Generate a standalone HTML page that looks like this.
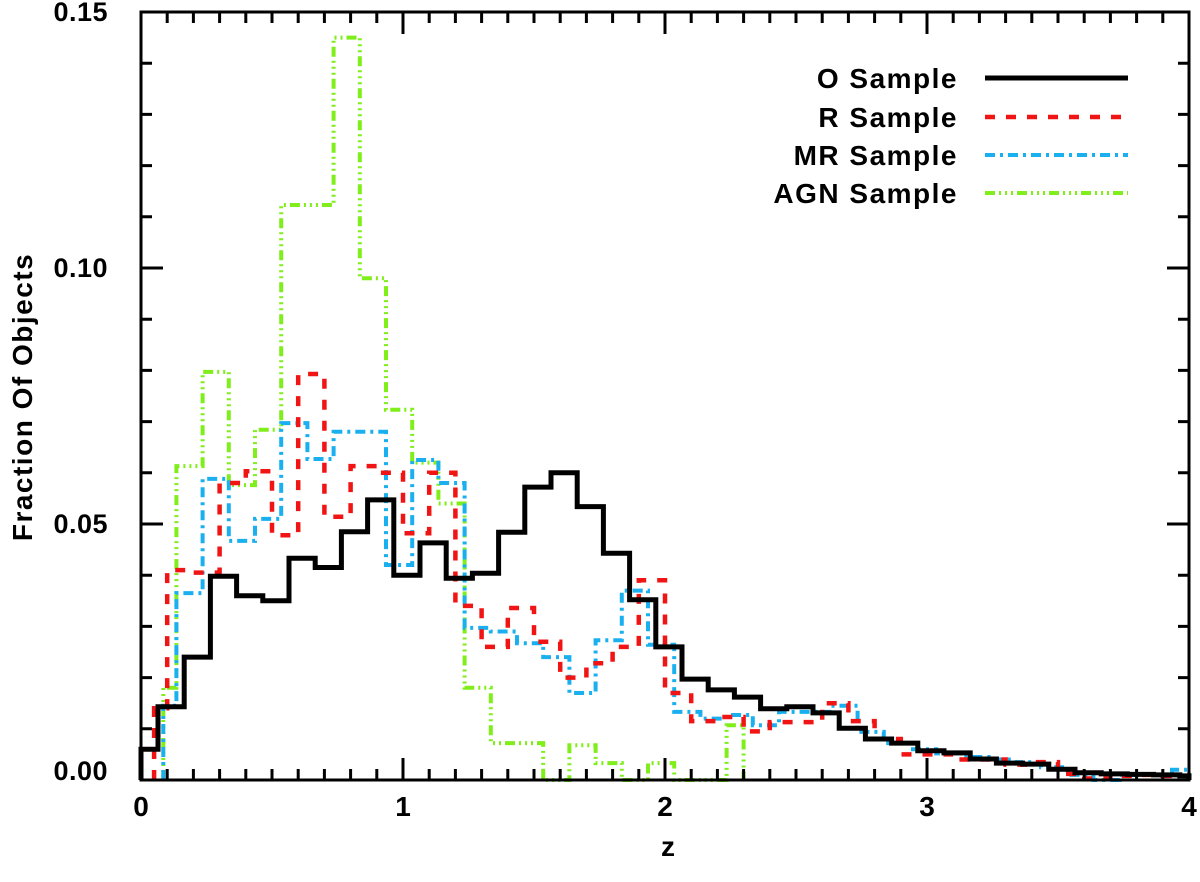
<!DOCTYPE html>
<html><head><meta charset="utf-8"><style>
html,body{margin:0;padding:0;background:#fff;}
svg text{font-family:"Liberation Sans",sans-serif;fill:#000;font-weight:bold;}
</style></head><body>
<svg id="chart" width="1200" height="877" viewBox="0 0 1200 877" xmlns="http://www.w3.org/2000/svg">
<g id="series"></g>
<g id="axes"></g>
<g id="legend"></g>
</svg>
<script>
// ---- data ----
const xTicks = [0, 1, 2, 3, 4];
const xTickLabels = ["0", "1", "2", "3", "4"];
const yTicks = [0, 0.05, 0.10, 0.15];
const yTickLabels = ["0.00", "0.05", "0.10", "0.15"];
const binWidth = 0.1;
const zMax = 4;

const oLeadEdges = [0, 0.065];
const oLeadVals = [0.006];
const oStart = 0.065;
const oVals = [0.0143,0.024,0.0398,0.036,0.035,0.0433,0.0415,0.0485,0.0547,0.040,0.0463,0.0394,0.0404,0.0484,0.0572,0.060,0.0534,0.0443,0.0352,0.026,0.0197,0.0176,0.0162,0.0139,0.0143,0.0131,0.0101,0.008,0.0072,0.0057,0.0053,0.0041,0.0033,0.0031,0.0021,0.0014,0.0012,0.0011,0.0010,0.0008];

const rLeadEdges = [0.05, 0.1];
const rLeadVals = [0.014];
const rStart = 0.1;
const rVals = [0.041,0.0405,0.058,0.0603,0.0478,0.0793,0.0514,0.0613,0.060,0.0482,0.060,0.034,0.026,0.0336,0.027,0.020,0.0228,0.026,0.039,0.017,0.0115,0.0123,0.0095,0.0113,0.0113,0.015,0.0115,0.008,0.005,0.005,0.004,0.004,0.003,0.0035,0.0012,0.0003,0.0008,0.001,0.0008];

const mLeadEdges = [0.085, 0.135];
const mLeadVals = [0.0145];
const mStart = 0.135;
const mVals = [0.0365,0.0588,0.0467,0.051,0.0697,0.0627,0.068,0.068,0.042,0.0625,0.058,0.0297,0.029,0.0267,0.024,0.017,0.0273,0.037,0.0264,0.0133,0.012,0.0127,0.0107,0.0133,0.0133,0.0145,0.0094,0.0072,0.006,0.0052,0.0045,0.004,0.0035,0.0025,0.001,0.0,0.001,0.001,0.002];

const aLeadEdges = [0.085, 0.135];
const aLeadVals = [0.018];
const aStart = 0.135;
const aVals = [0.0613,0.0797,0.0576,0.0684,0.1123,0.1123,0.145,0.098,0.0723,0.062,0.054,0.018,0.0072,0.0072,0,0.0068,0.0033,0,0.0033,0,0,0.0107];
const aEnd = 2.30;

// ---- layout ----
const L=141, R=1189, T=12, B=780;
const xS = z => L + (z/4)*(R-L);
const yS = v => B - (v/0.15)*(B-T);
const NS="http://www.w3.org/2000/svg";
function mk(tag, attrs, parent){const e=document.createElementNS(NS,tag);for(const k in attrs)e.setAttribute(k,attrs[k]);parent.appendChild(e);return e;}

function buildPath(leadEdges, leadVals, start, vals, endZ){
  const edges=[], v=[];
  for(let i=0;i<leadVals.length;i++){edges.push([leadEdges[i],leadEdges[i+1]]);v.push(leadVals[i]);}
  for(let i=0;i<vals.length;i++){
    const a=start+i*binWidth; let b=a+binWidth;
    if(i===vals.length-1) b=Math.min(endZ,zMax); else b=Math.min(b,zMax);
    edges.push([a,b]); v.push(vals[i]);
  }
  let d="M"+xS(edges[0][0]).toFixed(1)+","+yS(0).toFixed(1);
  for(let i=0;i<v.length;i++){
    d+=" L"+xS(edges[i][0]).toFixed(1)+","+yS(v[i]).toFixed(1);
    d+=" L"+xS(edges[i][1]).toFixed(1)+","+yS(v[i]).toFixed(1);
  }
  d+=" L"+xS(edges[v.length-1][1]).toFixed(1)+","+yS(0).toFixed(1);
  return d;
}
const sg=document.getElementById('series');
const styles={
  agn:{c:"#7fee1a",w:4,da:"10 4 2 4 2 4 2 4"},
  mr:{c:"#1ab0f0",w:4,da:"10 5 3 5"},
  r:{c:"#f01414",w:4.5,da:"10 11"},
  o:{c:"#000",w:5,da:""}
};
let p;
p=mk('path',{d:buildPath(aLeadEdges,aLeadVals,aStart,aVals,aEnd),fill:"none",stroke:styles.agn.c,"stroke-width":styles.agn.w,"stroke-dasharray":styles.agn.da},sg);


p=mk('path',{d:buildPath(mLeadEdges,mLeadVals,mStart,mVals,zMax),fill:"none",stroke:styles.mr.c,"stroke-width":styles.mr.w,"stroke-dasharray":styles.mr.da},sg);


p=mk('path',{d:buildPath(rLeadEdges,rLeadVals,rStart,rVals,zMax),fill:"none",stroke:styles.r.c,"stroke-width":styles.r.w,"stroke-dasharray":styles.r.da},sg);


p=mk('path',{d:buildPath(oLeadEdges,oLeadVals,oStart,oVals,zMax),fill:"none",stroke:styles.o.c,"stroke-width":styles.o.w},sg);



// ---- axes ----
const ag=document.getElementById('axes');
let f=mk('rect',{x:L,y:T,width:R-L,height:B-T,fill:"none",stroke:"#000","stroke-width":3},ag);


let tk="";
for(let i=0;i<=40;i++){const x=xS(i*0.1);const len=(i%10===0)?22:11;tk+=`M${x},${B} v${-len} M${x},${T} v${len} `;}
for(let i=0;i<=15;i++){const y=yS(i*0.01);const len=(i%5===0)?22:11;tk+=`M${L},${y} h${len} M${R},${y} h${-len} `;}
f=mk('path',{d:tk,stroke:"#000","stroke-width":3,fill:"none"},ag);


xTicks.forEach((z,i)=>{
  const t=mk('text',{x:xS(z),y:816,"font-size":28,"text-anchor":"middle"},ag);
  t.textContent=xTickLabels[i];
  
  
});
yTicks.forEach((v,i)=>{
  const t=mk('text',{x:108,y:yS(v)+ (i===0?0:9) ,"font-size":27,"text-anchor":"end","letter-spacing":0.5},ag);
  t.textContent=yTickLabels[i];
  
  
});
let t=mk('text',{x:668,y:856,"font-size":28,"text-anchor":"middle"},ag);
t.textContent="z";


t=mk('text',{x:32,y:397,"font-size":28,"text-anchor":"middle","letter-spacing":1.5,transform:"rotate(-90 32 397)"},ag);
t.textContent="Fraction Of Objects";



// ---- legend ----
const lg=document.getElementById('legend');
const legendLabels=["O Sample","R Sample","MR Sample","AGN Sample"];
const legendKeys=["o","r","mr","agn"];
const legendY=[78,117,155,193];
legendLabels.forEach((lab,i)=>{
  const y=legendY[i]; const s=styles[legendKeys[i]];
  const tx=mk('text',{x:958,y:y+10,"font-size":28,"text-anchor":"end","letter-spacing":1.5},lg);
  tx.textContent=lab;
  
  
  const ln=mk('line',{x1:985,x2:1128,y1:y,y2:y,stroke:s.c,"stroke-width":s.w,"stroke-dasharray":s.da},lg);
  
  
});
</script>
</body></html>
